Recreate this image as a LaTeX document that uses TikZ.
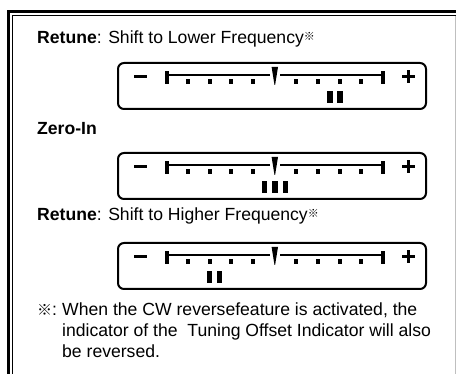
\documentclass[tikz,border=0pt]{standalone}
\usepackage{fontspec}
\setmainfont{Liberation Sans}
\newfontfamily\cjkf{Noto Sans CJK JP}
\newcommand{\refmark}{{\cjkf ※}}
\begin{document}
\begin{tikzpicture}[x=1pt,y=-1pt,
  dialbox/.style={draw, line width=2pt, rounded corners=6pt, minimum width=308pt, minimum height=46pt, inner sep=0pt},
  titletext/.style={anchor=base west, inner sep=0pt, font=\fontsize{17.6}{21}\selectfont},
  notetext/.style={anchor=base west, inner sep=0pt, font=\fontsize{17.6}{22}\selectfont},
  scaleline/.style={line width=1.8pt},
  signline/.style={line width=3pt}]
\useasboundingbox (0,0) rectangle (456,374);
% outer frame
\draw[line width=2.7pt] (8.7,374) -- (8.7,11.3) -- (456,11.3);
\draw[line width=1pt] (12.3,374) -- (12.3,15.3) -- (456,15.3);
\draw[black!25, line width=1pt] (455.5,15.8) -- (455.5,374);
% titles
\node[titletext] (t1) at (37,44) {\textbf{Retune}: Shift to Lower Frequency\raisebox{3.5pt}{\fontsize{11}{11}\selectfont\refmark}};
\node[titletext] (t2) at (37,135) {\textbf{Zero-In}};
\node[titletext] (t3) at (37,221) {\textbf{Retune}: Shift to Higher Frequency\raisebox{3.5pt}{\fontsize{11}{11}\selectfont\refmark}};
% dials
\foreach \dy/\bars [count=\i] in {0/{330,340}, 90/{264.5,275,285.5}, 180/{209.5,219.5}} {
  \begin{scope}[yshift=-\dy pt]
    \node[dialbox] (box\i) at (272,86) {};
    \draw[signline] (134,77) -- (147,77);
    \draw[signline] (402,77) -- (415,77) (408.5,70.5) -- (408.5,83.5);
    \draw[scaleline] (166.5,75) -- (269.5,75) (280,75) -- (383,75);
    \fill (164.5,71) rectangle (168.5,84);
    \fill (381,71) rectangle (385,84);
    \foreach \k in {1,2,3,4,6,7,8,9} {
      \fill ({166.5+21.65*\k-2},79) rectangle ({166.5+21.65*\k+2},84);
    }
    \fill (271.6,67) -- (278,67) -- (275.1,85) -- (274.5,85) -- cycle;
    \foreach \bx in \bars {
      \fill ({\bx-2.8},91) rectangle ({\bx+2.8},103);
    }
  \end{scope}
}
% footnote
\node[notetext] (n0) at (37,316) {{\fontsize{15}{15}\selectfont\refmark}:};
\node[notetext] (n1) at (62,316) {When the CW reversefeature is activated, the};
\node[notetext] (n2) at (62,337) {indicator of the\ \ Tuning Offset Indicator will also};
\node[notetext] (n3) at (62,358) {be reversed.};
\end{tikzpicture}
\end{document}
